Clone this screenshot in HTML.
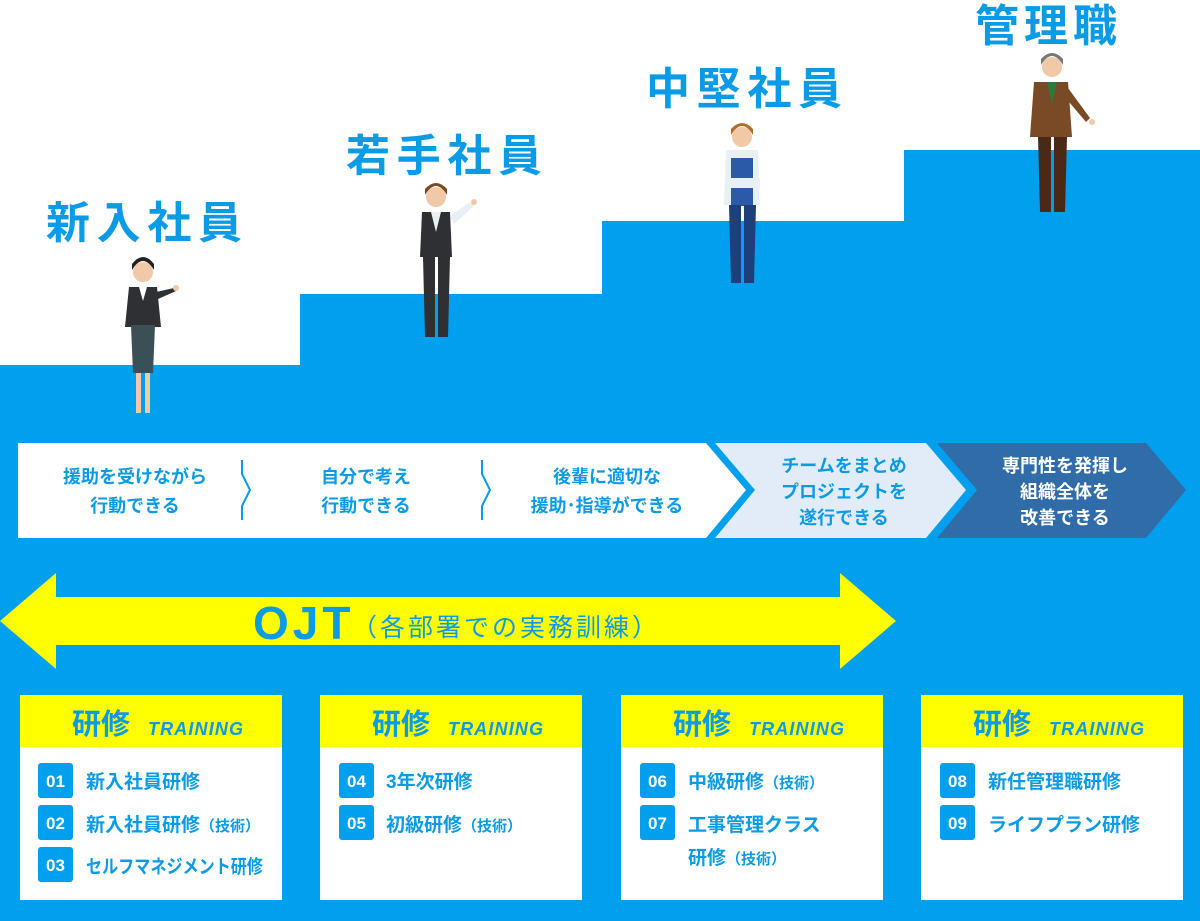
<!DOCTYPE html>
<html><head><meta charset="utf-8"><style>
html,body{margin:0;padding:0;background:#fff}
svg{display:block}
text{font-family:"Liberation Sans","Noto Sans CJK JP",sans-serif;font-weight:bold}
</style></head><body>
<svg width="1200" height="921" viewBox="0 0 1200 921" xmlns="http://www.w3.org/2000/svg">
<path d="M0 365 H300 V294 H602 V221 H904 V150 H1200 V921 H0 Z" fill="#00a0ee"/>
<g fill="#0a9be6" font-size="44" text-anchor="middle" letter-spacing="4">
<text x="146" y="238" textLength="200">新入社員</text>
<text x="446" y="171" textLength="200">若手社員</text>
<text x="746" y="104" textLength="200">中堅社員</text>
<text x="1048" y="41" textLength="146">管理職</text>
</g>
<g>
<circle cx="143" cy="272" r="10" fill="#f2c9a8"/><path d="M132 270 q11 -18 22 0 v-6 q-11-14 -22 0z" fill="#222"/>
<path d="M129 287 h28 l4 40 h-36z" fill="#2e3033"/><path d="M139 287 l4 14 4-14z" fill="#fff"/>
<path d="M131 325 h24 l-2 48 h-20z" fill="#3b4f56"/>
<path d="M136 373 h5 v40 h-5z M145 373 h5 v40 h-5z" fill="#f2c9a8"/>
<path d="M156 292 l18 -4 2 3 -18 8z" fill="#2e3033"/><circle cx="176" cy="288" r="3" fill="#f2c9a8"/>
</g>
<g>
<circle cx="436" cy="197" r="10" fill="#f2c9a8"/><path d="M425 195 q11-18 22 0 v-6 q-11-12 -22 0z" fill="#7a4a22"/>
<path d="M422 212 h28 l2 45 h-32z" fill="#2e3033"/><path d="M431 212 l5 20 5-20z" fill="#e8f0f4"/>
<path d="M423 257 h12 v80 h-10z M438 257 h12 l-2 80 h-10z" fill="#2e3033"/>
<path d="M450 216 l20 -14 4 4 -20 18z" fill="#e8f0f4"/><circle cx="474" cy="202" r="3" fill="#f2c9a8"/>
</g>
<g>
<circle cx="742" cy="137" r="10" fill="#f2c9a8"/><path d="M731 135 q11-18 22 0 v-6 q-11-12 -22 0z" fill="#b0702a"/>
<path d="M726 150 h32 l2 55 h-36z" fill="#e8f0f4"/><path d="M731 158 h22 v48 h-22z" fill="#2b5aa8"/>
<path d="M726 178 h34 v10 h-34z" fill="#e8f0f4"/>
<path d="M729 205 h12 v78 h-10z M744 205 h12 l-2 78 h-10z" fill="#1d3f7a"/>
</g>
<g>
<circle cx="1052" cy="67" r="10" fill="#f2c9a8"/><path d="M1041 65 q11-18 22 0 v-6 q-11-12 -22 0z" fill="#777"/>
<path d="M1034 82 h34 l4 55 h-42z" fill="#7a4a26"/><path d="M1047 82 l5 22 5-22z" fill="#2a7a3a"/>
<path d="M1038 137 h13 v75 h-11z M1054 137 h13 l-2 75 h-11z" fill="#4a2a16"/>
<path d="M1068 88 l22 30 -4 4 -22-26z" fill="#7a4a26"/><circle cx="1092" cy="122" r="3" fill="#f2c9a8"/>
</g>
<path d="M18 443 H706 L746 490 L706 538 H18 Z" fill="#fff"/>
<path d="M242 460 v14 l8 16 -8 16 v14 M482 460 v14 l8 16 -8 16 v14" fill="none" stroke="#0a9be6" stroke-width="2"/>
<path d="M715 443 H926 L966 490 L926 538 H715 L755 490 Z" fill="#e1ecf8"/>
<path d="M937 443 H1146 L1186 490 L1146 538 H937 L977 490 Z" fill="#306ca8"/>
<g font-size="18" text-anchor="middle" fill="#0a9be6">
<text x="135" y="483">援助を受けながら</text><text x="135" y="512">行動できる</text>
<text x="366" y="483">自分で考え</text><text x="366" y="512">行動できる</text>
<text x="607" y="483">後輩に適切な</text><text x="607" y="512">援助･指導ができる</text>
<text x="844" y="472">チームをまとめ</text><text x="844" y="498">プロジェクトを</text><text x="844" y="524">遂行できる</text>
<g fill="#fff"><text x="1065" y="472">専門性を発揮し</text><text x="1065" y="498">組織全体を</text><text x="1065" y="524">改善できる</text></g>
</g>
<path d="M0 621 L56 573 V597 H840 V573 L896 621 L840 669 V645 H56 V669 Z" fill="#ffff00"/>
<text x="253" y="639" font-size="46" fill="#0a9be6" letter-spacing="4">OJT</text>
<text x="352" y="636" font-size="25" fill="#0a9be6" letter-spacing="3" style="font-weight:normal">（各部署での実務訓練）</text>
<g>
<rect x="20" y="695" width="262" height="205" fill="#fff"/><rect x="20" y="695" width="262" height="52" fill="#ffff00"/>
<rect x="320" y="695" width="262" height="205" fill="#fff"/><rect x="320" y="695" width="262" height="52" fill="#ffff00"/>
<rect x="621" y="695" width="262" height="205" fill="#fff"/><rect x="621" y="695" width="262" height="52" fill="#ffff00"/>
<rect x="921" y="695" width="262" height="205" fill="#fff"/><rect x="921" y="695" width="262" height="52" fill="#ffff00"/>
</g>
<g fill="#0a9be6">
<g font-size="29"><text x="72" y="734">研修</text><text x="372" y="734">研修</text><text x="673" y="734">研修</text><text x="973" y="734">研修</text></g>
<g font-size="18" font-style="italic"><text x="148" y="735" textLength="95">TRAINING</text><text x="448" y="735" textLength="95">TRAINING</text><text x="749" y="735" textLength="95">TRAINING</text><text x="1049" y="735" textLength="95">TRAINING</text></g>
</g>
<g fill="#00a0ee">
<rect x="38" y="763" width="35" height="35" rx="3"/><rect x="38" y="805" width="35" height="35" rx="3"/><rect x="38" y="847" width="35" height="35" rx="3"/>
<rect x="339" y="763" width="35" height="35" rx="3"/><rect x="339" y="805" width="35" height="35" rx="3"/>
<rect x="640" y="763" width="35" height="35" rx="3"/><rect x="640" y="805" width="35" height="35" rx="3"/>
<rect x="940" y="763" width="35" height="35" rx="3"/><rect x="940" y="805" width="35" height="35" rx="3"/>
</g>
<g fill="#fff" font-size="17" text-anchor="middle">
<text x="55.5" y="787">01</text><text x="55.5" y="829">02</text><text x="55.5" y="871">03</text>
<text x="356.5" y="787">04</text><text x="356.5" y="829">05</text>
<text x="657.5" y="787">06</text><text x="657.5" y="829">07</text>
<text x="957.5" y="787">08</text><text x="957.5" y="829">09</text>
</g>
<g fill="#0a9be6" font-size="19">
<text x="86" y="788">新入社員研修</text><text x="86" y="831">新入社員研修<tspan font-size="15">（技術）</tspan></text><text x="86" y="873" textLength="177" lengthAdjust="spacingAndGlyphs">セルフマネジメント研修</text>
<text x="386" y="788">3年次研修</text><text x="386" y="831">初級研修<tspan font-size="15">（技術）</tspan></text>
<text x="688" y="788">中級研修<tspan font-size="15">（技術）</tspan></text><text x="688" y="831">工事管理クラス</text><text x="688" y="864">研修<tspan font-size="15">（技術）</tspan></text>
<text x="988" y="788">新任管理職研修</text><text x="988" y="831">ライフプラン研修</text>
</g>
</svg>
</body></html>
